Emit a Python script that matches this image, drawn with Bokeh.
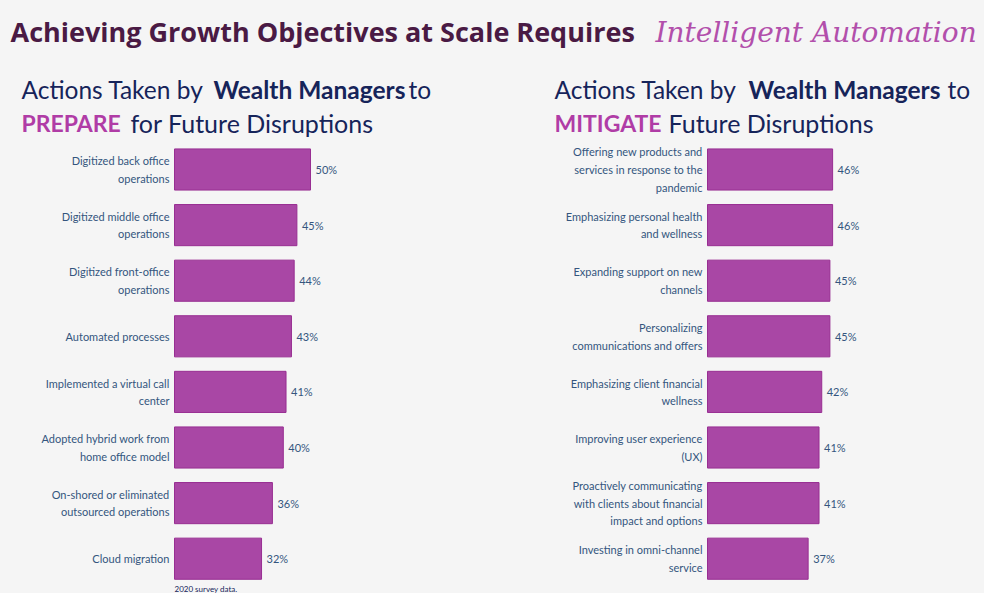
from bokeh.plotting import figure
from bokeh.layouts import column, row
from bokeh.models import Range1d, ColumnDataSource
from bokeh.core.properties import value
from bokeh.embed import file_html
from bokeh.resources import INLINE

BG = "#f5f5f5"
BAR = "#a947a5"
BAR_LINE = "#982e92"
TXT = "#34557e"
NAVY = "#16245a"
MAGENTA = "#b03ca6"
PLUM = "#4a1a44"
FONT = "Lato"

prepare_actions = [
    "Digitized back office\noperations",
    "Digitized middle office\noperations",
    "Digitized front-office\noperations",
    "Automated processes",
    "Implemented a virtual call\ncenter",
    "Adopted hybrid work from\nhome office model",
    "On-shored or eliminated\noutsourced operations",
    "Cloud migration",
]
prepare_pct = [50, 45, 44, 43, 41, 40, 36, 32]

mitigate_actions = [
    "Offering new products and\nservices in response to the\npandemic",
    "Emphasizing personal health\nand wellness",
    "Expanding support on new\nchannels",
    "Personalizing\ncommunications and offers",
    "Emphasizing client financial\nwellness",
    "Improving user experience\n(UX)",
    "Proactively communicating\nwith clients about financial\nimpact and options",
    "Investing in omni-channel\nservice",
]
mitigate_pct = [46, 46, 45, 45, 42, 41, 41, 37]

SCALE = 2.72   # px per percentage point
STEP = 55.6    # px per row
TOP = 140      # page y of bar panels' top edge
PW, PH = 492, 593 - TOP
FIRST = 169 - TOP  # px from panel top to first row centre


def style(p):
    p.xaxis.visible = False
    p.yaxis.visible = False
    p.xgrid.visible = False
    p.ygrid.visible = False
    p.outline_line_color = None
    p.background_fill_color = BG
    p.border_fill_color = BG
    p.min_border = 0
    p.min_border_left = 0
    p.min_border_right = 0
    p.min_border_top = 0
    p.min_border_bottom = 0


def bar_panel(cats, vals, zero_px, gap, footnote=None):
    n = len(cats)
    p = figure(width=PW, height=PH, output_backend="svg", toolbar_location=None,
               x_range=Range1d(-zero_px / SCALE, (PW - zero_px) / SCALE),
               y_range=Range1d((PH - FIRST) / STEP, -FIRST / STEP))
    style(p)
    src = ColumnDataSource(dict(
        y=list(range(n)), v=vals, cat=cats,
        lbl=[f"{v}%" for v in vals], zero=[0] * n))
    p.hbar(y="y", left="zero", right="v", height=0.74, source=src,
           fill_color=BAR, line_color=BAR_LINE, line_width=1)
    p.text(x="zero", y="y", text="cat", source=src, x_offset=-gap,
           text_align="right", text_baseline="middle",
           text_font=value(FONT), text_font_size="11px", text_color=TXT,
           text_line_height=1.36)
    p.text(x="v", y="y", text="lbl", source=src, x_offset=5,
           text_align="left", text_baseline="middle",
           text_font=value(FONT), text_font_size="11px", text_color=TXT)
    if footnote:
        p.text(x=[0], y=[(588 - TOP - FIRST) / STEP], text=[footnote],
               text_align="left", text_baseline="middle",
               text_font=value(FONT), text_font_size="8px", text_color=NAVY)
    return p


# Title strip (coordinates in page pixels)
t = figure(width=984, height=TOP, output_backend="svg", toolbar_location=None,
           x_range=Range1d(0, 984), y_range=Range1d(TOP, 0))
style(t)


def txt(x, y, s, color, size, style_="normal", font=FONT):
    t.text(x=[x], y=[y], text=[s], text_align="left", text_baseline="alphabetic",
           text_font=value(font), text_font_size=size, text_color=color,
           text_font_style=style_)


txt(10, 31, "Achieving Growth Objectives at Scale Requires", PLUM, "27px", "bold", "Open Sans")
txt(655, 32, "Intelligent Automation", "#b24fab", "28px", "italic", "DejaVu Serif")

txt(21, 89, "Actions Taken by", NAVY, "24.5px")
txt(213, 89, "Wealth Managers", NAVY, "24.5px", "bold")
txt(408, 89, "to", NAVY, "24.5px")
txt(21, 122, "PREPARE", MAGENTA, "23px", "bold")
txt(130, 122, "for Future Disruptions", NAVY, "25px")

txt(554, 89, "Actions Taken by", NAVY, "24.5px")
txt(748, 89, "Wealth Managers", NAVY, "24.5px", "bold")
txt(947, 89, "to", NAVY, "24.5px")
txt(554, 122, "MITIGATE", MAGENTA, "23px", "bold")
txt(668, 122, "Future Disruptions", NAVY, "25px")

left = bar_panel(prepare_actions, prepare_pct, 174, 5, "2020 survey data.")
right = bar_panel(mitigate_actions, mitigate_pct, 707 - PW, 5)

panels = row(left, right, spacing=0, styles={"background-color": BG})
layout = column(t, panels, spacing=0, styles={"background-color": BG})
open("out.html", "w").write(file_html(layout, INLINE))
